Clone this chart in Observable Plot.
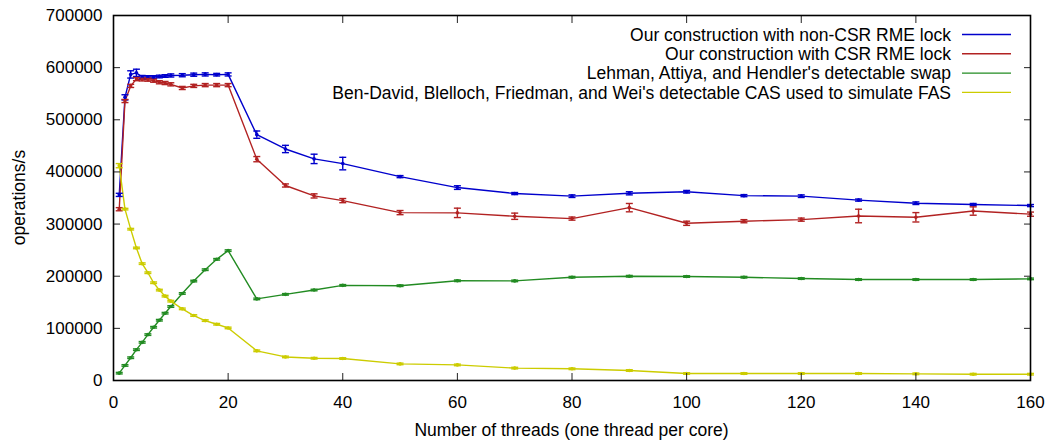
<!DOCTYPE html>
<html>
<head>
<meta charset="utf-8">
<script src="https://cdn.jsdelivr.net/npm/d3@7"></script>
<script src="https://cdn.jsdelivr.net/npm/@observablehq/plot@0.6"></script>
<style>
  html, body { margin: 0; padding: 0; background: #fff; }
  #chart svg { display: block; font-family: "Liberation Sans", Arial, sans-serif; }
</style>
</head>
<body>
<div id="chart"></div>
<script>
const threads = [1,2,3,4,5,6,7,8,9,10,12,14,16,18,20,25,30,35,40,50,60,70,80,90,100,110,120,130,140,150,160];

const seriesNames = [
  "Our construction with non-CSR RME lock",
  "Our construction with CSR RME lock",
  "Lehman, Attiya, and Hendler's detectable swap",
  "Ben-David, Blelloch, Friedman, and Wei's detectable CAS used to simulate FAS"
];
const seriesColors = ["#0000cc", "#b22222", "#228b22", "#cccc00"];

const nonCsrOps = [356000,543000,587000,590000,582000,582000,582000,583000,584000,585000,585500,586500,587000,586500,587000,471500,444000,425000,416000,391000,370000,358500,353500,359000,362000,354500,353500,346000,340000,337500,335500];
const nonCsrErr = [3000,5000,7000,7000,3000,2500,2500,2500,2500,3000,3000,3000,3000,2500,3000,7000,7000,9000,12000,2000,3500,2000,2500,3000,2500,2000,2500,2000,2500,2000,2000];

const csrOps = [328500,536000,565000,578000,577500,577000,575000,572000,570500,568000,561000,565000,566500,566500,566500,424500,374000,354000,345000,322000,321500,315000,310500,331500,301500,305500,308500,315500,313000,325000,319000];
const csrErr = [3000,3000,3000,3000,3000,3000,3000,3000,3000,3000,3000,3000,3000,3000,3000,5000,3000,4000,4000,4000,9000,6000,3000,8000,4000,3000,3000,13000,9000,8000,4000];

const swapOps = [14100,28900,43700,59100,73200,88000,102100,115600,129100,141900,166900,190700,212500,232400,249100,156500,165200,173500,182500,181800,191300,191000,198100,200000,199400,198100,195500,193600,193600,193600,194900];
const swapErr = [1500,1500,1500,1500,1500,1500,1500,1500,1500,1500,1500,1500,1500,1500,1500,1500,1500,1500,1500,1500,1500,1500,1500,1500,1500,1500,1500,1500,1500,1500,1500];

const casOps = [412000,328700,290200,254200,224100,206700,187500,173400,161800,152200,137400,124600,114900,107900,100800,56900,45200,42700,42100,31800,29900,23800,22400,19200,13400,13400,13400,13400,12800,12100,12100];
const casErr = [4000,1500,1500,1500,1500,1500,1500,1500,1500,1500,1500,1500,1500,1500,1500,1500,1500,1500,1500,1500,1500,1500,1500,1500,1500,1500,1500,1500,1500,1500,1500];

const xTicks = [0,20,40,60,80,100,120,140,160];
const yTicks = [0,100000,200000,300000,400000,500000,600000,700000];

const allOps = [nonCsrOps, csrOps, swapOps, casOps];
const allErr = [nonCsrErr, csrErr, swapErr, casErr];

const rows = [];
allOps.forEach((vals, s) => {
  vals.forEach((v, i) => {
    rows.push({series: seriesNames[s], x: threads[i], y: v, lo: v - allErr[s][i], hi: v + allErr[s][i]});
  });
});

const capSymbol = {
  draw(context, size) {
    const r = Math.sqrt(size / Math.PI);
    context.moveTo(-r, 0);
    context.lineTo(r, 0);
  }
};

const color = {domain: seriesNames, range: seriesColors};
const font = '"Liberation Sans", Arial, sans-serif';

const chart = Plot.plot({
  width: 1046,
  height: 441,
  marginLeft: 113,
  marginRight: 16,
  marginTop: 15,
  marginBottom: 61,
  style: {fontFamily: font, fontSize: "17px", background: "white", color: "black"},
  x: {domain: [0, 160], ticks: xTicks, label: null},
  y: {domain: [0, 700000], ticks: yTicks, label: null},
  color,
  marks: [
    Plot.line(rows, {x: "x", y: "y", z: "series", stroke: "series", strokeWidth: 1.4}),
    Plot.ruleX(rows, {x: "x", y1: "lo", y2: "hi", stroke: "series", strokeWidth: 1.4}),
    Plot.dot(rows, {x: "x", y: "lo", symbol: capSymbol, r: 3.5, stroke: "series", fill: "none", strokeWidth: 1.4}),
    Plot.dot(rows, {x: "x", y: "hi", symbol: capSymbol, r: 3.5, stroke: "series", fill: "none", strokeWidth: 1.4}),
    Plot.dot(rows, {x: "x", y: "y", r: 1.8, fill: "series", stroke: null}),
    Plot.axisX({anchor: "bottom", ticks: xTicks, tickSize: -7, text: null, label: null, stroke: "#222"}),
    Plot.axisX({anchor: "top", ticks: xTicks, tickSize: -7, text: null, label: null, stroke: "#222"}),
    Plot.axisY({anchor: "left", ticks: yTicks, tickSize: -7, text: null, label: null, stroke: "#222"}),
    Plot.axisY({anchor: "right", ticks: yTicks, tickSize: -7, text: null, label: null, stroke: "#222"}),
    Plot.axisX({anchor: "bottom", ticks: xTicks, tickSize: 0, tickPadding: 15, tickFormat: d3.format("d"), fontSize: 17, label: null}),
    Plot.axisY({anchor: "left", ticks: yTicks, tickSize: 0, tickPadding: 11, tickFormat: d3.format("d"), fontSize: 17, label: null}),
    Plot.frame({stroke: "black", strokeWidth: 1.6})
  ]
});

const svg = d3.select(chart);

// Axis titles
svg.append("text")
  .attr("x", (113 + 1030) / 2).attr("y", 435.5)
  .attr("text-anchor", "middle").attr("font-family", font).attr("font-size", 17.5)
  .attr("fill", "black").text("Number of threads (one thread per core)");
svg.append("text")
  .attr("transform", `translate(25,${(15 + 380) / 2}) rotate(-90)`)
  .attr("text-anchor", "middle").attr("font-family", font).attr("font-size", 17.5)
  .attr("fill", "black").text("operations/s");

// Legend (key) inside the plot frame, top-right, as in the gnuplot original
const key = svg.append("g").attr("font-family", font).attr("font-size", 17.5);
const keyTextX = 951, keyLineX1 = 962, keyLineX2 = 1011, keyY0 = 34.5, keyDy = 19.3;
seriesNames.forEach((name, i) => {
  const y = keyY0 + i * keyDy;
  key.append("text").attr("x", keyTextX).attr("y", y).attr("dy", "0.35em")
    .attr("text-anchor", "end").attr("fill", "black").text(name);
  key.append("line").attr("x1", keyLineX1).attr("x2", keyLineX2).attr("y1", y).attr("y2", y)
    .attr("stroke", seriesColors[i]).attr("stroke-width", 1.4);
});

document.getElementById("chart").appendChild(chart);
</script>
</body>
</html>
